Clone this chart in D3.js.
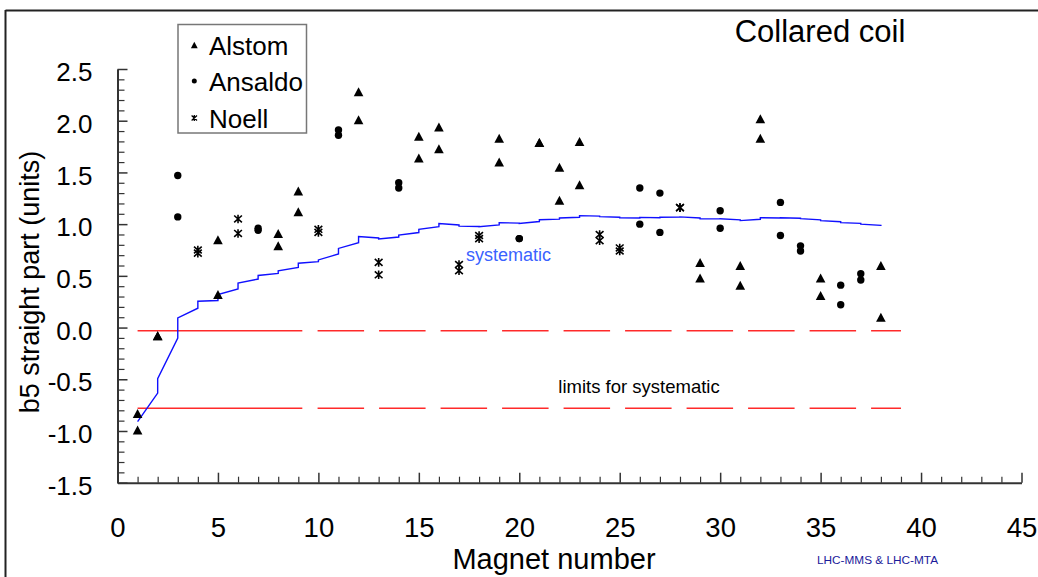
<!DOCTYPE html>
<html>
<head>
<meta charset="utf-8">
<script src="https://cdn.jsdelivr.net/npm/d3@7"></script>
<style>
  html, body { margin: 0; padding: 0; background: #fff; }
  svg { display: block; font-family: "Liberation Sans", Arial, sans-serif; }
</style>
</head>
<body>
<svg id="chart" width="1038" height="577"></svg>
<script>
// ---------------- DATA ----------------
const alstomX = [1, 1, 2, 2, 5, 5, 8, 8, 9, 9, 12, 12, 15, 15, 16, 16, 19, 19, 21, 21, 22, 22, 23, 23, 29, 29, 31, 31, 32, 32, 35, 35, 38, 38];
const alstomY = [-0.83, -0.99, -0.08, -0.08, 0.85, 0.32, 0.91, 0.79, 1.32, 1.12, 2.28, 2.01, 1.85, 1.64, 1.94, 1.73, 1.83, 1.60, 1.79, 1.79, 1.55, 1.23, 1.80, 1.38, 0.63, 0.48, 0.60, 0.41, 2.02, 1.83, 0.48, 0.31, 0.60, 0.10];

const ansaldoX = [3, 3, 7, 7, 11, 11, 14, 14, 20, 20, 26, 26, 27, 27, 30, 30, 33, 33, 34, 34, 36, 36, 37, 37];
const ansaldoY = [1.47, 1.07, 0.96, 0.94, 1.91, 1.86, 1.40, 1.35, 0.86, 0.86, 1.35, 1.00, 1.30, 0.92, 1.13, 0.96, 1.21, 0.89, 0.79, 0.74, 0.41, 0.22, 0.52, 0.46];

const noellX = [4, 4, 6, 6, 10, 10, 13, 13, 17, 17, 18, 18, 24, 24, 25, 25, 28, 28];
const noellY = [0.75, 0.72, 1.05, 0.91, 0.95, 0.92, 0.63, 0.51, 0.61, 0.55, 0.89, 0.86, 0.90, 0.84, 0.77, 0.74, 1.16, 1.16];

// systematic (running value) line
const sysX = [1, 2, 2, 3, 3, 4, 4, 5, 5, 6, 6, 7, 7, 8, 8, 9, 9, 10, 10, 11, 11, 12, 12, 13, 13, 14, 14, 15, 15, 16, 16, 17, 17, 18, 18, 19, 19, 20, 20, 21, 21, 22, 22, 23, 23, 24, 24, 25, 25, 26, 26, 27, 27, 28, 28, 29, 29, 30, 30, 31, 31, 32, 32, 33, 33, 34, 34, 35, 35, 36, 36, 37, 37, 38, 38];
const sysY = [-0.91, -0.633, -0.495, -0.102, 0.093, 0.187, 0.254, 0.261, 0.320, 0.374, 0.430, 0.469, 0.504, 0.523, 0.548, 0.581, 0.622, 0.638, 0.654, 0.711, 0.765, 0.820, 0.880, 0.866, 0.857, 0.875, 0.894, 0.919, 0.950, 0.975, 1.006, 0.992, 0.981, 0.977, 0.975, 0.992, 1.014, 1.010, 1.006, 1.025, 1.043, 1.048, 1.059, 1.066, 1.082, 1.077, 1.073, 1.067, 1.061, 1.059, 1.065, 1.062, 1.067, 1.068, 1.070, 1.060, 1.052, 1.051, 1.052, 1.042, 1.034, 1.047, 1.062, 1.060, 1.062, 1.057, 1.053, 1.042, 1.034, 1.023, 1.014, 1.007, 1.000, 0.988, 0.983];

// limits for systematic
const limitValues = [-0.03, -0.78];
const limitSolidX = [1, 9.2];
const limitDashX = [9.96, 39.0];

// ticks
const xMajorTicks = [0, 5, 10, 15, 20, 25, 30, 35, 40, 45];
const xTickLabels = ["0", "5", "10", "15", "20", "25", "30", "35", "40", "45"];
const yMajorTicks = [-1.5, -1.0, -0.5, 0.0, 0.5, 1.0, 1.5, 2.0, 2.5];
const yTickLabels = ["-1.5", "-1.0", "-0.5", "0.0", "0.5", "1.0", "1.5", "2.0", "2.5"];

const seriesNames = ["Alstom", "Ansaldo", "Noell"];

// ---------------- CHART ----------------
const svg = d3.select("#chart");
const FONT = '"Liberation Sans", Arial, sans-serif';

const x = d3.scaleLinear().domain([0, 45]).range([117.5, 1021.5]);
const y = d3.scaleLinear().domain([-1.5, 2.5]).range([482.7, 69]);

// outer frame (top + left)
svg.append("line").attr("x1", 5.5).attr("x2", 1038).attr("y1", 10.5).attr("y2", 10.5)
  .attr("stroke", "#222").attr("stroke-width", 2);
svg.append("line").attr("x1", 5.5).attr("x2", 5.5).attr("y1", 10).attr("y2", 577)
  .attr("stroke", "#222").attr("stroke-width", 2);

// minor ticks
const xMinor = d3.range(0, 46, 1).filter(v => v % 5 !== 0);
const yMinor = d3.range(-15, 26, 1).filter(v => v % 5 !== 0).map(v => v / 10);

const gxMinor = svg.append("g").attr("transform", `translate(0,${y(-1.5)})`)
  .call(d3.axisBottom(x).tickValues(xMinor).tickSize(-6).tickFormat(""));
gxMinor.select(".domain").remove();
gxMinor.selectAll("line").attr("stroke", "#333").attr("stroke-width", 1.2);

const gyMinor = svg.append("g").attr("transform", `translate(${x(0)},0)`)
  .call(d3.axisLeft(y).tickValues(yMinor).tickSize(-7).tickFormat(""));
gyMinor.select(".domain").remove();
gyMinor.selectAll("line").attr("stroke", "#333").attr("stroke-width", 1.2);

// major axes
const gx = svg.append("g").attr("transform", `translate(0,${y(-1.5)})`)
  .call(d3.axisBottom(x).tickValues(xMajorTicks).tickSize(-10).tickSizeOuter(0)
    .tickFormat((d, i) => xTickLabels[i]));
gx.select(".domain").attr("stroke", "#333").attr("stroke-width", 2);
gx.selectAll(".tick line").attr("stroke", "#333").attr("stroke-width", 1.5);
gx.selectAll(".tick text").attr("font-family", FONT).attr("font-size", 27.5)
  .attr("fill", "#000").attr("dy", null).attr("y", 54);

const gy = svg.append("g").attr("transform", `translate(${x(0)},0)`)
  .call(d3.axisLeft(y).tickValues(yMajorTicks).tickSize(-10).tickSizeOuter(0)
    .tickFormat((d, i) => yTickLabels[i]));
gy.select(".domain").attr("stroke", "#333").attr("stroke-width", 2);
gy.selectAll(".tick line").attr("stroke", "#333").attr("stroke-width", 1.5);
gy.selectAll(".tick text").attr("font-family", FONT).attr("font-size", 26)
  .attr("fill", "#000").attr("x", -25).attr("dy", "0.45em");

// limit lines
limitValues.forEach(v => {
  svg.append("line")
    .attr("x1", x(limitSolidX[0])).attr("x2", x(limitSolidX[1]))
    .attr("y1", y(v)).attr("y2", y(v))
    .attr("stroke", "#ff2a2a").attr("stroke-width", 1.5);
  svg.append("line")
    .attr("x1", x(limitDashX[0])).attr("x2", x(limitDashX[1]))
    .attr("y1", y(v)).attr("y2", y(v))
    .attr("stroke", "#ff2a2a").attr("stroke-width", 1.5)
    .attr("stroke-dasharray", "46.5,15");
});

// systematic line
const sysPts = sysX.map((d, i) => [d, sysY[i]]);
svg.append("path")
  .datum(sysPts)
  .attr("d", d3.line().x(d => x(d[0])).y(d => y(d[1])))
  .attr("fill", "none").attr("stroke", "#1010ff").attr("stroke-width", 1.4);

// marker shapes
function triPath(s) { return `M0,${-s}L${s * 1.07},${s}L${-s * 1.07},${s}Z`; }
function astPath(s) {
  return `M0,${-s}V${s}M${-s * 0.9},${-s * 0.8}L${s * 0.9},${s * 0.8}M${-s * 0.9},${s * 0.8}L${s * 0.9},${-s * 0.8}`;
}

// Alstom
svg.append("g").selectAll("path")
  .data(alstomX.map((d, i) => [d, alstomY[i]]))
  .join("path")
  .attr("transform", d => `translate(${x(d[0])},${y(d[1])})`)
  .attr("d", triPath(4.5)).attr("fill", "#000");

// Ansaldo
svg.append("g").selectAll("circle")
  .data(ansaldoX.map((d, i) => [d, ansaldoY[i]]))
  .join("circle")
  .attr("cx", d => x(d[0])).attr("cy", d => y(d[1])).attr("r", 3.7).attr("fill", "#000");

// Noell
svg.append("g").selectAll("path")
  .data(noellX.map((d, i) => [d, noellY[i]]))
  .join("path")
  .attr("transform", d => `translate(${x(d[0])},${y(d[1])})`)
  .attr("d", astPath(4.3)).attr("fill", "none").attr("stroke", "#000").attr("stroke-width", 1.6);

// annotations
svg.append("text").attr("x", 466).attr("y", 261).attr("font-family", FONT).attr("font-size", 18)
  .attr("fill", "#3a62ff").text("systematic");
svg.append("text").attr("x", 639).attr("y", 393).attr("text-anchor", "middle")
  .attr("font-family", FONT).attr("font-size", 18.5).attr("fill", "#000").text("limits for systematic");

// title
svg.append("text").attr("x", 820).attr("y", 41.5).attr("text-anchor", "middle")
  .attr("font-family", FONT).attr("font-size", 31).attr("fill", "#000").text("Collared coil");

// axis titles
svg.append("text").attr("x", 554).attr("y", 569).attr("text-anchor", "middle")
  .attr("font-family", FONT).attr("font-size", 29).attr("fill", "#000").text("Magnet number");
svg.append("text").attr("transform", "translate(39,282) rotate(-90)").attr("text-anchor", "middle")
  .attr("font-family", FONT).attr("font-size", 27).attr("fill", "#000").text("b5 straight part (units)");

// credit
svg.append("text").attr("x", 817).attr("y", 564).attr("font-family", FONT).attr("font-size", 11.8)
  .attr("fill", "#1a1a9a").text("LHC-MMS & LHC-MTA");

// legend
const lg = svg.append("g");
lg.append("rect").attr("x", 178).attr("y", 24.5).attr("width", 128.5).attr("height", 108.5)
  .attr("fill", "#fff").attr("stroke", "#777").attr("stroke-width", 1.5);
const legY = [45, 81, 118];
lg.append("path").attr("transform", `translate(194.3,${legY[0]})`).attr("d", triPath(3.2)).attr("fill", "#000");
lg.append("circle").attr("cx", 194.3).attr("cy", legY[1]).attr("r", 2.5).attr("fill", "#000");
lg.append("path").attr("transform", `translate(194.3,${legY[2]})`).attr("d", astPath(3)).attr("fill", "none")
  .attr("stroke", "#000").attr("stroke-width", 1.3);
seriesNames.forEach((n, i) => {
  lg.append("text").attr("x", 209).attr("y", legY[i] + 9.5).attr("font-family", FONT)
    .attr("font-size", 26).attr("fill", "#000").text(n);
});
</script>
</body>
</html>
